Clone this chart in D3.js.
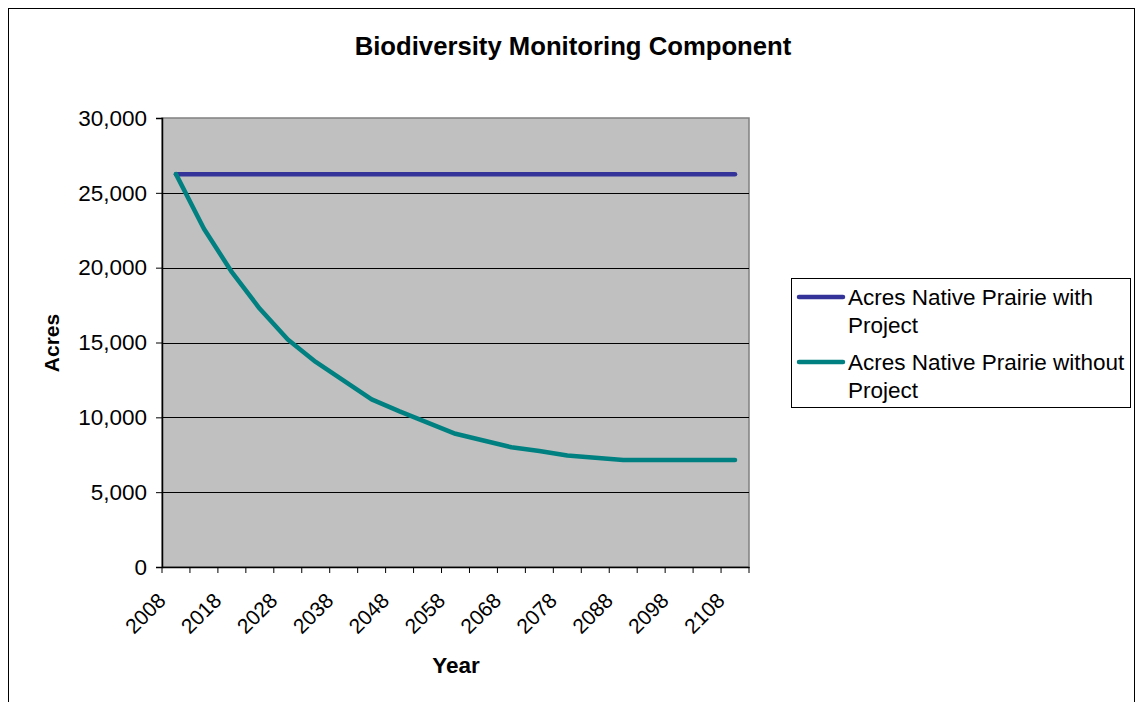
<!DOCTYPE html>
<html><head><meta charset="utf-8">
<script src="https://cdn.jsdelivr.net/npm/d3@7"></script>
<style>body{margin:0;background:#fff;} text{font-family:"Liberation Sans",Arial,sans-serif;}</style>
</head><body><svg id="c" width="1139" height="702"></svg>
<script>
const years = [2008,2013,2018,2023,2028,2033,2038,2043,2048,2053,2058,2063,2068,2073,2078,2083,2088,2093,2098,2103,2108];
const tickLabels = ["2008","2018","2028","2038","2048","2058","2068","2078","2088","2098","2108"];
const withProject = [26250,26250,26250,26250,26250,26250,26250,26250,26250,26250,26250,26250,26250,26250,26250,26250,26250,26250,26250,26250,26250];
const withoutProject = [26250,22600,19700,17250,15200,13700,12450,11200,10400,9650,8900,8450,8000,7750,7450,7300,7150,7150,7150,7150,7150];
const yTicks = [0,5000,10000,15000,20000,25000,30000];
const seriesNames = ["Acres Native Prairie with Project","Acres Native Prairie without Project"];
const colors = ["#333399","#008080"];

const svg = d3.select("#c");
const L=162, R=749, T=118, B=567;
svg.append("rect").attr("x",8.5).attr("y",8.5).attr("width",1126).attr("height",720).attr("fill","#fff").attr("stroke","#000").attr("stroke-width",1);

const x = d3.scaleBand().domain(years).range([L,R]);
const y = d3.scaleLinear().domain([0,30000]).range([B,T]);

svg.append("rect").attr("x",L).attr("y",T).attr("width",R-L).attr("height",B-T).attr("fill","#C0C0C0").attr("stroke","#808080").attr("stroke-width",1.5);

// gridlines
svg.append("g").selectAll("line").data(yTicks.filter(d=>d>0&&d<30000)).join("line")
  .attr("x1",L).attr("x2",R).attr("y1",d=>Math.round(y(d))+0.5).attr("y2",d=>Math.round(y(d))+0.5)
  .attr("stroke","#000").attr("stroke-width",1);

// y axis
const yAxis = d3.axisLeft(y).tickValues(yTicks).tickSize(6).tickFormat(d3.format(","));
const gy = svg.append("g").attr("transform",`translate(${L},0)`).call(yAxis);
gy.select(".domain").attr("stroke","#000").attr("stroke-width",1.5);
gy.selectAll("text").attr("font-size",22.5).attr("fill","#000").attr("dx",-6);

// x axis
const xAxis = d3.axisBottom(x).tickSize(0).tickFormat(()=>"");
const gx = svg.append("g").attr("transform",`translate(0,${B})`).call(xAxis);
gx.select(".domain").attr("stroke","#000").attr("stroke-width",1.5);
gx.selectAll(".tick").remove();
// category boundary tick marks
const bounds = years.map(d=>x(d)).concat([R]);
gx.selectAll("line.tm").data(bounds).join("line").attr("class","tm")
  .attr("x1",d=>d).attr("x2",d=>d).attr("y1",0).attr("y2",6).attr("stroke","#000").attr("stroke-width",1);
gx.selectAll("text.tl").data(tickLabels).join("text").attr("class","tl")
  .attr("transform",d=>`translate(${x(+d)+x.bandwidth()/2-9},${35}) rotate(-45)`)
  .attr("text-anchor","end").attr("font-size",21).attr("fill","#000").text(d=>d);

// lines
const line = d3.line().x((d,i)=>x(years[i])+x.bandwidth()/2).y(d=>y(d));
[withProject, withoutProject].forEach((s,k)=>{
  svg.append("path").datum(s).attr("d",line).attr("fill","none").attr("stroke",colors[k])
    .attr("stroke-width",4.5).attr("stroke-linejoin","round").attr("stroke-linecap","round");
});

// title
svg.append("text").attr("x",573).attr("y",55).attr("text-anchor","middle").attr("font-size",25.7).attr("font-weight","bold").text("Biodiversity Monitoring Component");
// axis titles
svg.append("text").attr("transform","translate(59,343) rotate(-90)").attr("text-anchor","middle").attr("font-size",21).attr("font-weight","bold").text("Acres");
svg.append("text").attr("x",456).attr("y",673).attr("text-anchor","middle").attr("font-size",22.5).attr("font-weight","bold").text("Year");

// legend
const lg = svg.append("g");
lg.append("rect").attr("x",791.5).attr("y",278.5).attr("width",339).attr("height",129).attr("fill","#fff").attr("stroke","#000");
const lines = [["Acres Native Prairie with","Project"],["Acres Native Prairie without","Project"]];
lines.forEach((ls,k)=>{
  const y0 = 297 + k*65;
  lg.append("line").attr("x1",799).attr("x2",843).attr("y1",y0).attr("y2",y0).attr("stroke",colors[k]).attr("stroke-width",4.5).attr("stroke-linecap","round");
  ls.forEach((t,j)=>lg.append("text").attr("x",848).attr("y",y0+8+j*28).attr("font-size",22.5).attr("fill","#000").text(t));
});
</script></body></html>
